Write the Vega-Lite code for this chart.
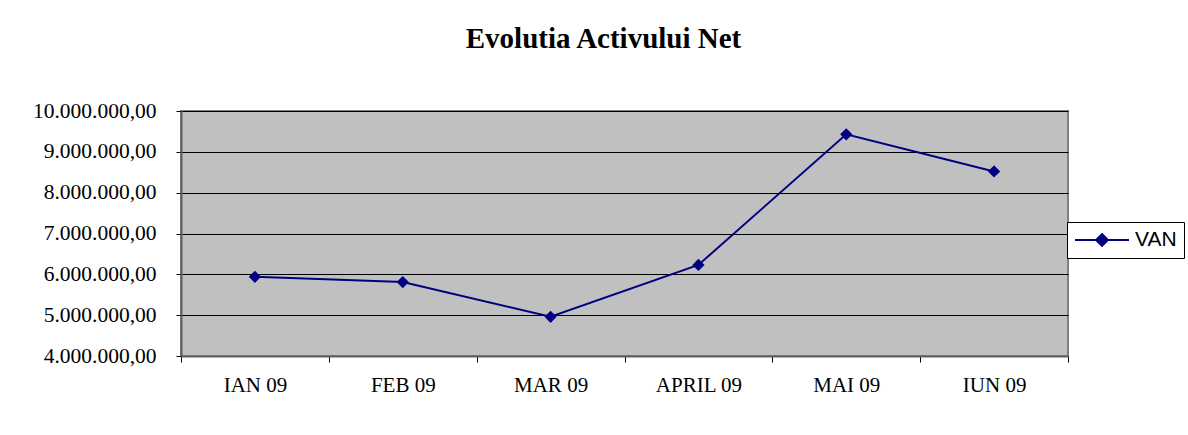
{
  "$schema": "https://vega.github.io/schema/vega-lite/v6.json",
  "width": 887,
  "height": 245,
  "autosize": {"type": "none"},
  "padding": {"left": 181, "top": 111, "right": 120, "bottom": 79},
  "background": "white",
  "config": {
    "locale": {"number": {"decimal": ",", "thousands": ".", "grouping": [3], "currency": ["", ""]}},
    "view": {"fill": "#C0C0C0", "stroke": "#808080", "strokeWidth": 2},
    "font": "Liberation Serif"
  },
  "title": {
    "text": "Evolutia Activului Net",
    "font": "Liberation Serif",
    "fontSize": 29,
    "fontWeight": "bold",
    "color": "black",
    "anchor": "middle",
    "baseline": "alphabetic",
    "offset": 23,
    "dx": -21
  },
  "data": {
    "values": [
      {"luna": "IAN 09", "valoare": 5940000, "serie": "VAN"},
      {"luna": "FEB 09", "valoare": 5810000, "serie": "VAN"},
      {"luna": "MAR 09", "valoare": 4960000, "serie": "VAN"},
      {"luna": "APRIL 09", "valoare": 6230000, "serie": "VAN"},
      {"luna": "MAI 09", "valoare": 9430000, "serie": "VAN"},
      {"luna": "IUN 09", "valoare": 8520000, "serie": "VAN"}
    ]
  },
  "encoding": {
    "x": {
      "field": "luna",
      "type": "nominal",
      "sort": null,
      "bandPosition": 0.5,
      "scale": {"type": "band", "paddingInner": 0, "paddingOuter": 0},
      "axis": {
        "title": null,
        "labelAngle": 0,
        "labelFont": "Liberation Serif",
        "labelFontSize": 21,
        "labelColor": "black",
        "labelPadding": 12,
        "tickBand": "extent",
        "tickColor": "black",
        "tickSize": 6,
        "domainColor": "#606060",
        "domainWidth": 2,
        "grid": false
      }
    },
    "y": {
      "field": "valoare",
      "type": "quantitative",
      "scale": {"domain": [4000000, 10000000], "nice": false, "zero": false},
      "axis": {
        "title": null,
        "values": [4000000, 5000000, 6000000, 7000000, 8000000, 9000000, 10000000],
        "format": ",.2f",
        "labelFont": "Liberation Serif",
        "labelFontSize": 21.5,
        "labelColor": "black",
        "labelPadding": 20,
        "tickColor": "black",
        "tickSize": 5,
        "domainColor": "#606060",
        "domainWidth": 2,
        "grid": true,
        "gridColor": "black",
        "gridWidth": 1,
        "gridOpacity": 1
      }
    },
    "color": {
      "field": "serie",
      "type": "nominal",
      "scale": {"range": ["#000080"]},
      "legend": {
        "title": null,
        "orient": "none",
        "legendX": 886,
        "legendY": 111,
        "symbolType": "M-1,0L1,0M0,-0.22L0.22,0L0,0.22L-0.22,0Z",
        "symbolSize": 2916,
        "symbolStrokeWidth": 2,
        "symbolFillColor": "#000080",
        "symbolStrokeColor": "#000080",
        "symbolOpacity": 1,
        "clipHeight": 22,
        "labelFont": "Liberation Sans",
        "labelFontSize": 21,
        "labelColor": "black",
        "labelOffset": 5,
        "padding": 7,
        "strokeColor": "black",
        "fillColor": "white",
        "cornerRadius": 0
      }
    }
  },
  "layer": [
    {"mark": {"type": "line", "strokeWidth": 2}},
    {"mark": {"type": "point", "shape": "diamond", "filled": true, "size": 150, "opacity": 1}}
  ]
}
